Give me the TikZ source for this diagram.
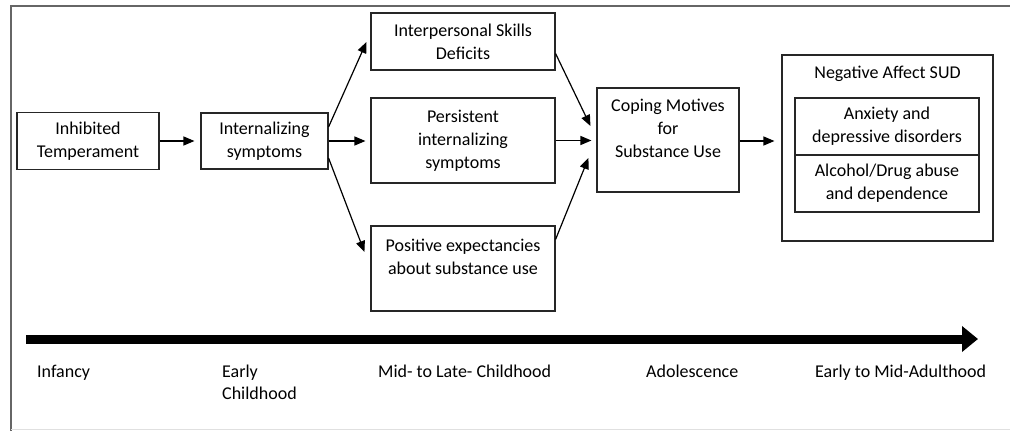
\documentclass[tikz,border=0pt]{standalone}
\usepackage{fontspec}
\setmainfont{Carlito}
\usetikzlibrary{arrows.meta,calc}
\begin{document}
\begin{tikzpicture}[x=1pt,y=-1pt,
 box/.style={draw=black!85, line width=1.1pt, align=center, inner sep=0pt, font=\fontsize{18}{23}\selectfont},
 conn/.style={line width=1.2pt, -{Triangle[length=11pt,width=9pt]}},
 lbl/.style={anchor=north west, inner sep=0pt, align=left, font=\fontsize{18}{22}\selectfont}]
\useasboundingbox (0,0) rectangle (1010,431);
\draw[black!60, line width=1.8pt] (1010,6) -- (11,6) -- (11,431);
\draw[black!12, line width=1pt] (11,429.5) -- (1010,429.5);

\node[box, minimum width=142pt, minimum height=57pt] (inh) at (88,141) {Inhibited\\Temperament};
\node[box, minimum width=127pt, minimum height=56pt] (int) at (264.5,141) {Internalizing\\symptoms};
\node[box, minimum width=184pt, minimum height=57pt] (ips) at (463,41.5) {Interpersonal Skills\\Deficits};
\node[box, minimum width=184pt, minimum height=85pt] (per) at (463,140.5) {Persistent\\internalizing\\symptoms};
\node[box, minimum width=184pt, minimum height=85pt] (pos) at (463,268.5) {Positive expectancies\\about substance use\\\mbox{}};
\node[box, minimum width=142pt, minimum height=104pt] (cop) at (668,140) {Coping Motives\\for\\Substance Use\\\mbox{}};
\node[box, minimum width=211pt, minimum height=186pt] (neg) at (887.5,148) {};
\node[inner sep=0pt, font=\fontsize{18}{23}\selectfont] (negt) at (887.5,74) {Negative Affect SUD};
\node[box, minimum width=184pt, minimum height=57pt] (anx) at (887,126.5) {Anxiety and\\depressive disorders};
\node[box, minimum width=184pt, minimum height=57pt] (alc) at (887,183.5) {Alcohol/Drug abuse\\and dependence};

\draw[conn] (inh.east) -- ($(int.west)+(-6,0)$);
\draw[conn] ($(int.east)+(0,-14)$) -- ($(ips.west)+(-4,0.5)$);
\draw[conn] (int.east) -- ($(per.west)+(-5,0.5)$);
\draw[conn] ($(int.east)+(0,17)$) -- ($(pos.west)+(-6,-16.5)$);
\draw[conn] ($(ips.east)+(0,12)$) -- ($(cop.west)+(-6,-14)$);
\draw[conn] (per.east) -- ($(cop.west)+(-5,0.5)$);
\draw[conn] ($(pos.east)+(0,-29)$) -- ($(cop.west)+(-8,18)$);
\draw[conn] ($(cop.east)+(0,1)$) -- ($(neg.west)+(-7,-7)$);

\coordinate (t0) at (26,339);
\coordinate (t1) at (978,339);
\draw[line width=9pt, -{Triangle[length=16pt,width=25pt]}] (t0) -- (t1);

\node[lbl] (l1) at (37,365) {Infancy};
\node[lbl] (l2) at (222,365) {Early\\Childhood};
\node[lbl] (l3) at (378,365) {Mid- to Late- Childhood};
\node[lbl] (l4) at (646,365) {Adolescence};
\node[lbl] (l5) at (815,365) {Early to Mid-Adulthood};
\end{tikzpicture}
\end{document}
